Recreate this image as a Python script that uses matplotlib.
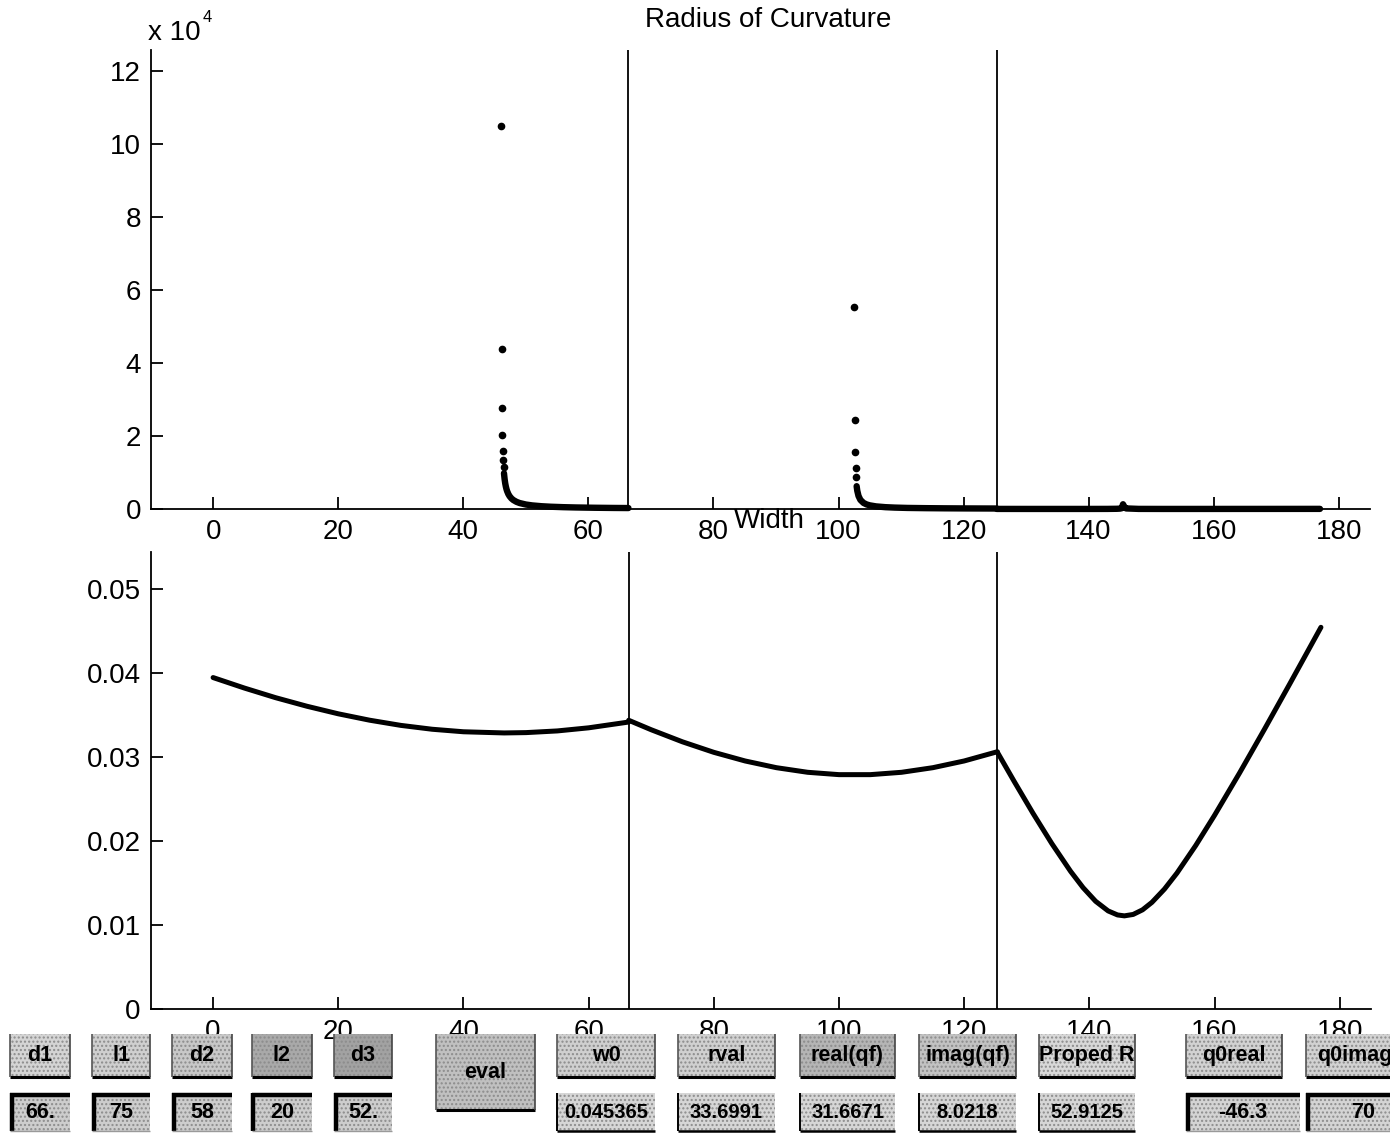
import matplotlib
matplotlib.use("Agg")
import matplotlib.pyplot as plt
from matplotlib.patches import Rectangle
from matplotlib.lines import Line2D
from matplotlib.ticker import FuncFormatter, MultipleLocator

plt.rcParams['font.family'] = ['Liberation Sans', 'DejaVu Sans']

# ---------------- data ----------------
interfaces = [66.4, 125.3]

# Radius of curvature (top), three segments
r1_x = [46.05, 46.11, 46.18, 46.24, 46.31, 46.37, 46.43, 46.5, 46.6, 46.7, 46.8, 46.9, 47.0,
        47.2, 47.4, 47.7, 48.0, 48.5, 49.0, 50.0, 51.0, 52.5, 54.0, 56.0, 58.0, 61.0, 64.0, 66.4]
r1_y = [104900, 43800, 27700, 20300, 16000, 13400, 11500, 9800, 8170, 7000, 6125, 5445, 4900,
        4083, 3500, 2882, 2452, 1962, 1636, 1229, 985, 760, 620, 500, 420, 341, 288, 261]
r2_x = [102.55, 102.6, 102.66, 102.72, 102.78, 102.9, 103.0, 103.2, 103.5, 104.0, 104.5, 105.0,
        106.0, 107.5, 109.0, 111.0, 114.0, 117.0, 120.0, 123.0, 125.3]
r2_y = [55300, 24400, 15600, 11200, 8800, 6250, 5000, 3570, 2500, 1667, 1250, 1000,
        714, 500, 385, 294, 229, 187, 160, 142, 133]
r3_x = [125.3, 130.0, 135.0, 140.0, 143.0, 144.5, 145.0, 145.3, 145.5, 145.7, 146.0, 148.0,
        152.0, 160.0, 170.0, 177.0]
r3_y = [23, 17, 16, 17, 27, 58, 104, 208, 1300, 624, 156, 28, 16, 19, 27, 33]
n_isolated = [7, 5, 0]   # leading points drawn as separate dots

# Beam width (bottom), three segments
w1_x = [0, 5, 10, 15, 20, 25, 30, 35, 40, 46.5, 50, 55, 60, 66.4]
w1_y = [0.03950, 0.03825, 0.03710, 0.03608, 0.03518, 0.03442, 0.03380, 0.03334, 0.03304,
        0.03290, 0.03294, 0.03314, 0.03351, 0.03420]
w2_x = [66.4, 70, 75, 80, 85, 90, 95, 100, 105, 110, 115, 120, 125.3]
w2_y = [0.03441, 0.03328, 0.03184, 0.03059, 0.02956, 0.02876, 0.02821, 0.02793, 0.02793,
        0.02821, 0.02876, 0.02956, 0.03066]
w3_x = [125.3, 128, 131, 134, 137, 139, 141, 143, 144.5, 145.6, 147, 148.5, 150, 152, 154,
        157, 160, 164, 168, 172, 177]
w3_y = [0.03061, 0.02711, 0.02332, 0.01972, 0.01641, 0.01446, 0.01284, 0.01169, 0.01121,
        0.01110, 0.01127, 0.01182, 0.01271, 0.01429, 0.01620, 0.01949, 0.02308, 0.02813,
        0.03337, 0.03872, 0.04549]

x_ticks = [0, 20, 40, 60, 80, 100, 120, 140, 160, 180]

# GUI controls
param_labels = ["d1", "l1", "d2", "l2", "d3"]
param_values = ["66.", "75", "58", "20", "52."]
out_labels = ["w0", "rval", "real(qf)", "imag(qf)", "Proped R"]
out_values = ["0.045365", "33.6991", "31.6671", "8.0218", "52.9125"]
q_labels = ["q0real", "q0imag"]
q_values = ["-46.3", "70"]
button_label = "eval"

# ---------------- figure ----------------
W, H = 1390, 1138
fig = plt.figure(figsize=(W / 100, H / 100), dpi=100)

def fbox(x0, ytop, x1, ybot):
    return [x0 / W, 1 - ybot / H, (x1 - x0) / W, (ybot - ytop) / H]

FS = 20
ax1 = fig.add_axes(fbox(150.7, 50, 1370, 509))
ax2 = fig.add_axes(fbox(150.5, 551.7, 1371, 1009))

for ax in (ax1, ax2):
    for s in ("top", "right"):
        ax.spines[s].set_visible(False)
    for s in ("left", "bottom"):
        ax.spines[s].set_linewidth(1.3)
    ax.tick_params(direction="in", length=8.5, width=1.3, labelsize=FS, pad=7,
                   top=False, right=False)
    ax.set_xlim(-10, 185)
    ax.set_xticks(x_ticks)
    for xv in interfaces:
        ax.axvline(xv, color="black", lw=1.3, zorder=1)

# top plot
ax1.set_ylim(0, 125800)
ax1.yaxis.set_major_locator(MultipleLocator(20000))
ax1.yaxis.set_major_formatter(FuncFormatter(lambda v, p: f"{v/1e4:g}"))
for xs, ys, ni in zip([r1_x, r2_x, r3_x], [r1_y, r2_y, r3_y], n_isolated):
    ax1.plot(xs[:ni], ys[:ni], "o", color="black", ms=4.5, mec="black", clip_on=False)
    ax1.plot(xs[ni:], ys[ni:], "-", color="black", lw=4.6, solid_capstyle="round",
             solid_joinstyle="round", clip_on=False)

# bottom plot
ax2.set_ylim(0, 0.0545)
ax2.set_yticks([0, 0.01, 0.02, 0.03, 0.04, 0.05])
ax2.yaxis.set_major_formatter(FuncFormatter(lambda v, p: f"{v:g}"))
for xs, ys in zip([w1_x, w2_x, w3_x], [w1_y, w2_y, w3_y]):
    ax2.plot(xs, ys, "-", color="black", lw=3.6, solid_capstyle="round",
             solid_joinstyle="round", zorder=3)

fig.text(768 / W, 1 - 20 / H, "Radius of Curvature", ha="center", va="center", fontsize=FS)
fig.text(769 / W, 1 - 521 / H, "Width", ha="center", va="center", fontsize=FS)
fig.text(148 / W, 1 - 33 / H, "x 10", ha="left", va="center", fontsize=FS)
fig.text(203 / W, 1 - 17 / H, "4", ha="left", va="center", fontsize=12)

# ---------------- GUI controls ----------------
def panel(x0, ytop, x1, ybot, face, style, text, tsize=15.5):
    r = Rectangle((x0 / W, 1 - ybot / H), (x1 - x0) / W, (ybot - ytop) / H,
                  transform=fig.transFigure, facecolor=face, edgecolor="#8c8c8c",
                  hatch="....", lw=0, zorder=10)
    fig.patches.append(r)
    def ln(xa, ya, xb, yb, c, w):
        fig.lines.append(Line2D([xa / W, xb / W], [1 - ya / H, 1 - yb / H],
                                transform=fig.transFigure, color=c, lw=w, zorder=11,
                                solid_capstyle="butt"))
    if style == "raised":
        ln(x0, ybot, x1, ybot, "black", 2.2)
        ln(x1, ytop, x1, ybot, "#444444", 1.2)
        ln(x0, ytop, x0, ybot, "#555555", 1.2)
    elif style == "sunken":
        ln(x0, ytop + 1.5, x1, ytop + 1.5, "black", 3.2)
        ln(x0 + 1.5, ytop, x0 + 1.5, ybot, "black", 3.2)
        ln(x0, ybot, x1, ybot, "#9a9a9a", 1.0)
    elif style == "flat":
        ln(x0, ytop, x0, ybot, "black", 1.4)
        ln(x0, ybot, x1, ybot, "black", 1.8)
    fig.text((x0 + x1) / 2 / W, 1 - (ytop + ybot) / 2 / H, text, ha="center", va="center",
             fontsize=tsize, fontweight="bold", zorder=12)

r1_top, r1_bot = 1034, 1077
r2_top, r2_bot = 1093, 1131
small_x = [(10, 70), (92, 150), (172, 232), (252, 312), (334, 392)]
small_face = ["#d4d4d4", "#cfcfcf", "#c8c8c8", "#a9a9a9", "#a2a2a2"]
for (xa, xb), lab, val, fc in zip(small_x, param_labels, param_values, small_face):
    panel(xa, r1_top, xb, r1_bot, fc, "raised", lab)
    panel(xa, r2_top, xb, r2_bot, "#cdcdcd", "sunken", val)

panel(436, 1034, 535, 1110, "#c0c0c0", "raised", button_label)

out_x = [(557, 655), (678, 775), (800, 895), (919, 1016), (1039, 1135)]
out_face1 = ["#cfcfcf", "#d0d0d0", "#b5b5b5", "#c2c2c2", "#d8d8d8"]
for (xa, xb), lab, val, fc in zip(out_x, out_labels, out_values, out_face1):
    panel(xa, r1_top, xb, r1_bot, fc, "raised", lab)
    panel(xa, r2_top, xb, r2_bot, "#d6d6d6", "flat", val, 14.5)

q_x1 = [(1186, 1282), (1306, 1404)]
q_x2 = [(1186, 1300), (1306, 1420)]
for (xa, xb), (xc, xd), lab, val in zip(q_x1, q_x2, q_labels, q_values):
    panel(xa, r1_top, xb, r1_bot, "#d2d2d2", "raised", lab)
    panel(xc, r2_top, xd, r2_bot, "#d4d4d4", "sunken", val)

fig.savefig("out.png", dpi=100)
